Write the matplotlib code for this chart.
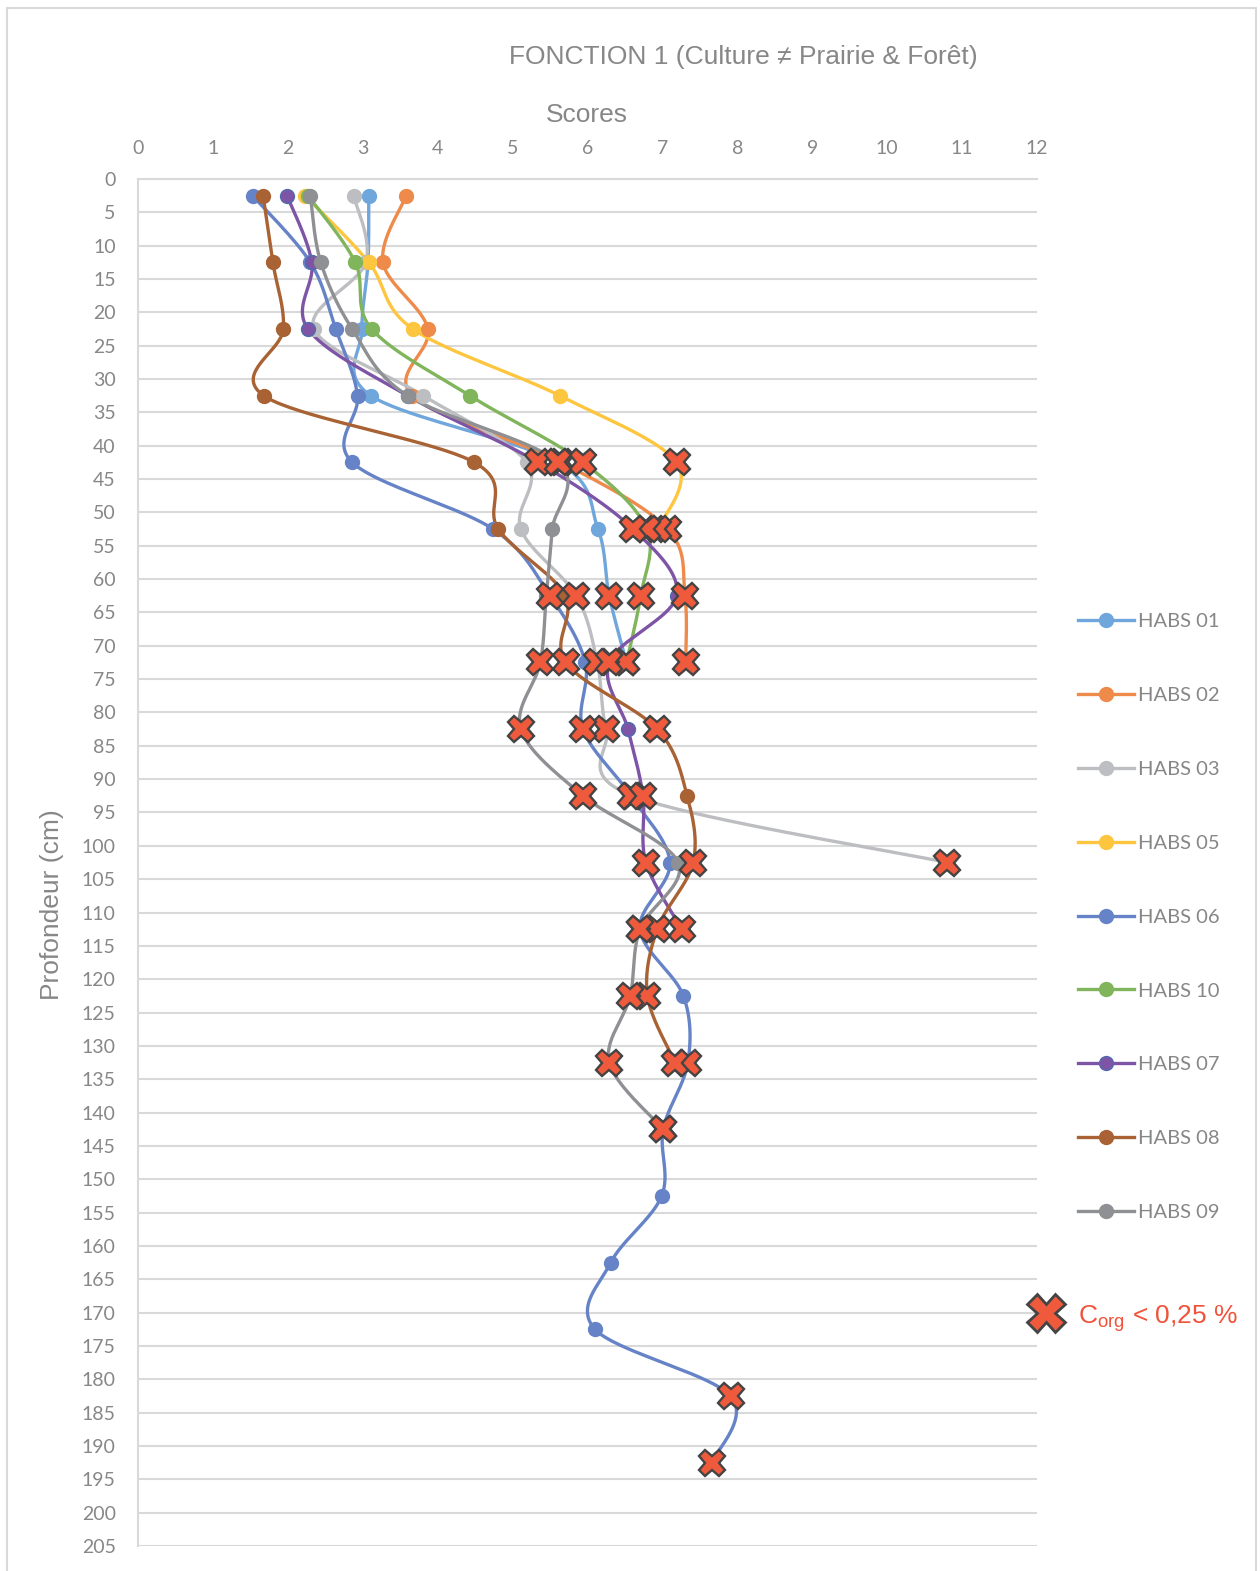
import numpy as np
import matplotlib
matplotlib.use("Agg")
import matplotlib.pyplot as plt
from matplotlib.patches import Rectangle

plt.rcParams['mathtext.fontset'] = 'custom'
plt.rcParams['mathtext.rm'] = 'Liberation Sans'

# depths of the sampled layers (cm)
depth = [2.5, 12.5, 22.5, 32.5, 42.5, 52.5, 62.5, 72.5, 82.5, 92.5,
         102.5, 112.5, 122.5, 132.5, 142.5, 152.5, 162.5, 172.5, 182.5, 192.5]

# scores per profile (top to bottom) and flags for Corg < 0,25 %
habs01 = [3.08, 3.07, 2.99, 3.11, 5.61, 6.14, 6.29, 6.52]
low01 = [0, 0, 0, 0, 1, 0, 1, 1]
habs02 = [3.58, 3.27, 3.87, 3.66, 5.65, 7.07, 7.30, 7.31]
low02 = [0, 0, 0, 0, 1, 1, 1, 1]
habs03 = [2.88, 3.04, 2.35, 3.81, 5.19, 5.11, 5.85, 6.13, 6.25, 6.60, 10.80]
low03 = [0, 0, 0, 0, 0, 0, 1, 1, 1, 1, 1]
habs05 = [2.23, 3.08, 3.67, 5.63, 7.19, 6.94]
low05 = [0, 0, 0, 0, 1, 1]
habs06 = [1.53, 2.30, 2.64, 2.93, 2.86, 4.74, 5.50, 5.97, 5.94, 6.58,
          7.10, 6.70, 7.28, 7.34, 7.01, 6.99, 6.31, 6.10, 7.91, 7.66]
low06 = [0, 0, 0, 0, 0, 0, 1, 0, 1, 1, 0, 1, 0, 1, 1, 0, 0, 0, 1, 1]
habs10 = [2.27, 2.90, 3.12, 4.43, 5.94, 6.79, 6.71, 6.52]
low10 = [0, 0, 0, 0, 1, 1, 1, 1]
habs07 = [1.99, 2.32, 2.27, 3.60, 5.34, 6.61, 7.19, 6.29, 6.54, 6.74, 6.78, 7.26]
low07 = [0, 0, 0, 0, 1, 1, 0, 1, 0, 1, 1, 1]
habs08 = [1.67, 1.80, 1.94, 1.68, 4.49, 4.81, 5.70, 5.71, 6.93, 7.33, 7.41, 6.93, 6.80, 7.17]
low08 = [0, 0, 0, 0, 0, 0, 0, 1, 1, 0, 1, 1, 1, 1]
habs09 = [2.30, 2.44, 2.86, 3.60, 5.61, 5.53, 5.45, 5.37, 5.11, 5.94, 7.21, 6.70, 6.57, 6.29, 7.01]
low09 = [0, 0, 0, 0, 1, 0, 0, 1, 1, 1, 0, 1, 1, 1, 1]

series = [
    ("HABS 01", habs01, low01, '#6FA6DC'),
    ("HABS 02", habs02, low02, '#EE8A4A'),
    ("HABS 03", habs03, low03, '#BDBEC1'),
    ("HABS 05", habs05, low05, '#FEC63F'),
    ("HABS 06", habs06, low06, '#6583C6'),
    ("HABS 10", habs10, low10, '#80B55B'),
    ("HABS 07", habs07, low07, '#7E55A6'),
    ("HABS 08", habs08, low08, '#A86234'),
    ("HABS 09", habs09, low09, '#8E9094'),
]

TXT = '#878787'
GRID = '#D9D9D9'


def smooth(ax, xs, ys, n=40):
    # Excel-like smoothed line, computed in screen space
    P = ax.transData.transform(np.column_stack([xs, ys]))
    pad = np.vstack([P[:1], P, P[-1:]])
    t = np.linspace(0, 1, n)[:, None]
    out = []
    for i in range(len(P) - 1):
        p0, p1, p2, p3 = pad[i], pad[i + 1], pad[i + 2], pad[i + 3]
        c1 = p1 + (p2 - p0) / 6
        c2 = p2 - (p3 - p1) / 6
        b = (1 - t) ** 3 * p1 + 3 * (1 - t) ** 2 * t * c1 + 3 * (1 - t) * t ** 2 * c2 + t ** 3 * p2
        out.append(b)
    pts = ax.transData.inverted().transform(np.vstack(out))
    return pts[:, 0], pts[:, 1]


fig = plt.figure(figsize=(12.6, 15.71), dpi=100)
fig.patches.append(Rectangle((7 / 1260, -0.05), 1249 / 1260, 1.05 - 8 / 1571,
                             transform=fig.transFigure, fill=False, edgecolor=GRID, lw=1.5))

ax = fig.add_axes([138 / 1260, 1 - 1546 / 1571, 899 / 1260, 1367 / 1571])
ax.set_xlim(0, 12)
ax.set_ylim(205, 0)
ax.set_xticks(range(0, 13))
ax.set_yticks(range(0, 206, 5))
ax.xaxis.tick_top()
ax.tick_params(axis='both', length=0, labelsize=14, labelcolor=TXT)
ax.tick_params(axis='x', pad=16)
ax.tick_params(axis='y', pad=16)
for lab in ax.get_xticklabels() + ax.get_yticklabels():
    lab.set_family('Lato')
ax.grid(axis='y', color=GRID, lw=1.5)
ax.set_axisbelow(True)
for s in ['right', 'bottom']:
    ax.spines[s].set_visible(False)
for s in ['left', 'top']:
    ax.spines[s].set_color(GRID)
    ax.spines[s].set_linewidth(1.5)

fig.canvas.draw()
handles = []
for name, vals, low, col in series:
    d = depth[:len(vals)]
    sx, sy = smooth(ax, vals, d)
    ax.plot(sx, sy, color=col, lw=2.4, solid_capstyle='round', zorder=3)
    mec = '#4F6BAE' if name == "HABS 07" else col
    ax.plot(vals, d, ls='none', marker='o', ms=10, mfc=col, mec=mec, mew=1, zorder=4)
    h, = ax.plot([], [], color=col, lw=2.4, marker='o', ms=10, mfc=col, mec=mec)
    handles.append(h)

for name, vals, low, col in series:
    d = depth[:len(vals)]
    xs = [v for v, f in zip(vals, low) if f]
    ys = [z for z, f in zip(d, low) if f]
    ax.plot(xs, ys, ls='none', marker='X', ms=19, mfc='#F05A3C', mec='#444444', mew=1.7, zorder=5)

leg = fig.legend(handles, [s[0] for s in series], loc='upper left',
                 bbox_to_anchor=(1078 / 1260, 1 - 613 / 1571), bbox_transform=fig.transFigure,
                 frameon=False, labelspacing=2.82, handlelength=2.78,
                 handletextpad=0.2, borderpad=0, borderaxespad=0,
                 prop={'family': 'Lato', 'size': 14.5})
for t in leg.get_texts():
    t.set_color(TXT)

# Corg marker legend
ax.plot([1046 / 1260], [1 - 1313 / 1571], transform=fig.transFigure, clip_on=False,
        marker='X', ms=27, mfc='#F05A3C', mec='#444444', mew=2)
fig.text(1078 / 1260, 1 - 1319 / 1571, r"C$_{\rm org}$ < 0,25 %", color='#F0533A',
         fontsize=19, family='Liberation Sans', va='center', ha='left')

fig.text(743 / 1260, 1 - 57 / 1571, "FONCTION 1 (Culture \u2260 Prairie & For\u00eat)",
         color=TXT, fontsize=19, family='Liberation Sans', ha='center', va='center')
fig.text(587 / 1260, 1 - 115 / 1571, "Scores", color=TXT, fontsize=19,
         family='Liberation Sans', ha='center', va='center')
fig.text(52 / 1260, 1 - 905 / 1571, "Profondeur (cm)", color=TXT, fontsize=19,
         family='Liberation Sans', ha='center', va='center', rotation=90)

fig.savefig('out.png', dpi=100)
